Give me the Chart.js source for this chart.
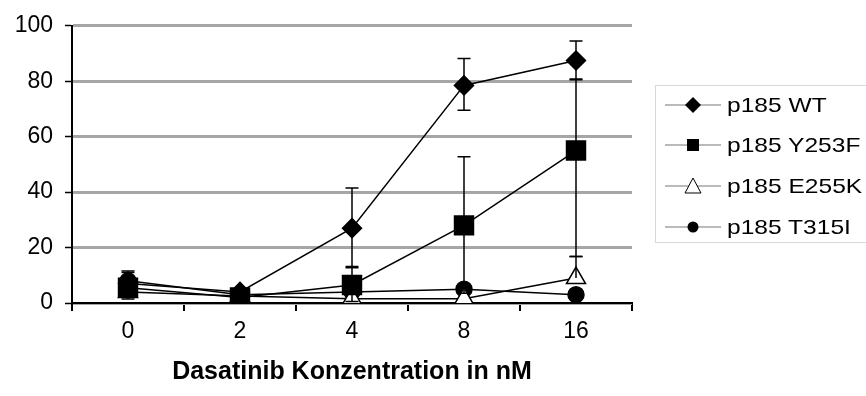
<!DOCTYPE html>
<html>
<head>
<meta charset="utf-8">
<script src="https://cdn.jsdelivr.net/npm/chart.js@4/dist/chart.umd.min.js"></script>
<style>
  html, body { margin:0; padding:0; background:#fff; }
  #wrap { position:relative; width:866px; height:396px; overflow:hidden; }
  #legend { position:absolute; left:655px; top:85px; width:240px; height:158px;
    border:1px solid #d9d9d9; box-sizing:border-box; font-family:"Liberation Sans", Arial, sans-serif;
    font-size:21px; color:#000; }
  .row { position:absolute; left:0; height:30px; display:flex; align-items:center; }
  .row svg { margin-left:9px; margin-right:6px; }
  .row span { display:inline-block; transform:scaleX(1.17); transform-origin:left center; white-space:nowrap; }
</style>
</head>
<body>
<div id="wrap">
  <canvas id="c" width="866" height="396"></canvas>
  <div id="legend"></div>
</div>
<script>
// Dasatinib dose-response, 4 p185 variants

const LABELS = ["0", "2", "4", "8", "16"];
const SERIES_NAMES = ["p185 WT", "p185 Y253F", "p185 E255K", "p185 T315I"];

const WT    = [7,   4,   27,  78.5, 87.5];
const Y253F = [5.5, 2,   6.5, 28,   55];
const E255K = [4,   2.5, 1.5, 1.5,  9];
const T315I = [8,   3,   4,   5,    3];

// error bar ends (null = none visible)
const WT_LOW     = [2.3, null, 13.2, 69.5, 80.5];
const WT_HIGH    = [11.5, null, 41.5, 88.2, 94.5];
const Y253F_LOW  = [null, null, 0.5, 3.5, 16.8];
const Y253F_HIGH = [null, null, 12.7, 52.8, 80.8];
const E255K_LOW  = [null, null, null, null, null];
const E255K_HIGH = [null, null, null, null, 16.8];
const T315I_LOW  = [1.4, null, null, null, null];
const T315I_HIGH = [11, null, null, null, null];

const Y_TICKS = [0, 20, 40, 60, 80, 100];
const X_TITLE = "Dasatinib Konzentration in nM";

const FONT = "'Liberation Sans', Arial, sans-serif";

function ds(label, data, style, radius, fill, low, high){
  return {
    label, data,
    borderColor:"#000", borderWidth:1.5,
    pointStyle:style, pointRadius:radius, pointHoverRadius:radius,
    pointBackgroundColor:fill, pointBorderColor:"#000", pointBorderWidth:1.5,
    errLow:low, errHigh:high, tension:0
  };
}

const errorBars = {
  id:"errorBars",
  afterDatasetsDraw(chart){
    const {ctx, scales:{x, y}} = chart;
    ctx.save();
    ctx.strokeStyle = "#000";
    ctx.lineWidth = 1.5;
    chart.data.datasets.forEach(d => {
      d.data.forEach((v, i) => {
        const px = x.getPixelForValue(i);
        const ends = [d.errLow[i], d.errHigh[i]];
        ends.forEach(e => {
          if (e == null) return;
          const py0 = y.getPixelForValue(v), py1 = y.getPixelForValue(e);
          ctx.beginPath();
          ctx.moveTo(px, py0); ctx.lineTo(px, py1);
          ctx.moveTo(px - 6.5, py1); ctx.lineTo(px + 6.5, py1);
          ctx.stroke();
        });
      });
    });
    ctx.restore();
  }
};

new Chart(document.getElementById("c"), {
  type:"line",
  data:{
    labels:LABELS,
    datasets:[
      ds(SERIES_NAMES[0], WT, "rectRot", 9.5, "#000", WT_LOW, WT_HIGH),
      ds(SERIES_NAMES[1], Y253F, "rect", 13.4, "#000", Y253F_LOW, Y253F_HIGH),
      ds(SERIES_NAMES[2], E255K, "triangle", 11, "#fff", E255K_LOW, E255K_HIGH),
      ds(SERIES_NAMES[3], T315I, "circle", 8, "#000", T315I_LOW, T315I_HIGH)
    ]
  },
  options:{
    responsive:false, animation:false, devicePixelRatio:1,
    layout:{ padding:{ left:0, right:234, top:22, bottom:0 } },
    plugins:{ legend:{ display:false }, tooltip:{ enabled:false } },
    scales:{
      x:{
        offset:true,
        grid:{ drawOnChartArea:false, offset:true, tickLength:8, color:"#000", lineWidth:2 },
        border:{ color:"#000", width:2 },
        ticks:{ color:"#000", font:{ family:FONT, size:23 }, padding:7, maxRotation:0 },
        title:{ display:true, text:X_TITLE, color:"#000",
          font:{ family:FONT, size:25, weight:"bold" }, padding:{ top:0, bottom:9 } },
        afterFit(s){ s.height = 93; }
      },
      y:{
        min:0, max:100,
        afterBuildTicks(s){ s.ticks = Y_TICKS.map(v => ({ value:v })); },
        grid:{ color:"#a6a6a6", lineWidth:3, tickLength:7, tickColor:"#000", tickWidth:1.5 },
        border:{ color:"#000", width:2 },
        ticks:{ color:"#000", font:{ family:FONT, size:23 }, padding:12 },
        afterFit(s){ s.width = 72; }
      }
    }
  },
  plugins:[errorBars]
});

// legend (html, markers as svg)
const LEG_MARKS = [
  '<polygon points="28,2 36,10 28,18 20,10" fill="#000"/>',
  '<rect x="22" y="4" width="12" height="12" fill="#000"/>',
  '<polygon points="28,2 36,17 20,17" fill="#fff" stroke="#000" stroke-width="1"/>',
  '<circle cx="28" cy="10" r="5.5" fill="#000"/>'
];
const ROW_Y = [4, 44, 85, 126];
const leg = document.getElementById("legend");
SERIES_NAMES.forEach((name, i) => {
  const r = document.createElement("div");
  r.className = "row";
  r.style.top = ROW_Y[i] + "px";
  r.innerHTML = `<svg width="56" height="20"><line x1="0" y1="10" x2="56" y2="10" stroke="#777" stroke-width="1.2"/>${LEG_MARKS[i]}</svg><span>${name}</span>`;
  leg.appendChild(r);
});
</script>
</body>
</html>
